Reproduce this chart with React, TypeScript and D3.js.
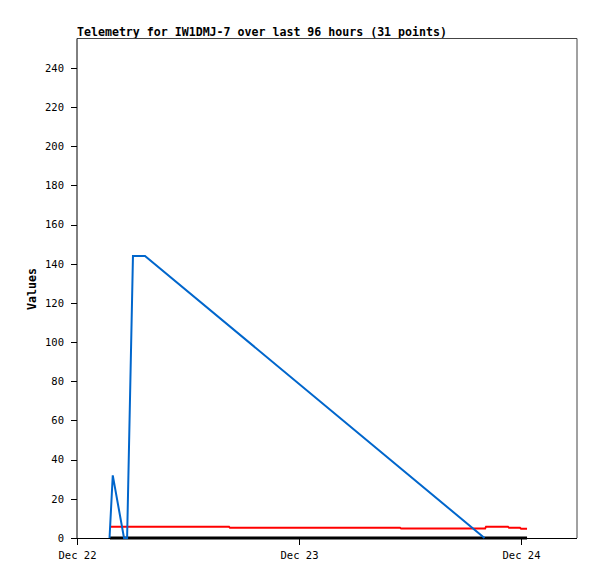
import React from "react";
import * as d3 from "d3";

const titleText = "Telemetry for IW1DMJ-7 over last 96 hours (31 points)";
const yLabel = "Values";
const xTickDates = ["2023-12-22T00:00", "2023-12-23T00:00", "2023-12-24T00:00"];
const xTickLabels = ["Dec 22", "Dec 23", "Dec 24"];
const yTicks = [0, 20, 40, 60, 80, 100, 120, 140, 160, 180, 200, 220, 240];

const blueTimes = [
  "2023-12-22T03:31", "2023-12-22T03:52", "2023-12-22T05:05", "2023-12-22T05:25",
  "2023-12-22T06:03", "2023-12-22T07:21", "2023-12-23T20:03",
];
const blueValues = [0, 32, 0, 0, 144, 144, 0];

const redTimes = [
  "2023-12-22T03:34", "2023-12-22T16:26", "2023-12-22T16:32", "2023-12-23T10:55",
  "2023-12-23T11:02", "2023-12-23T20:07", "2023-12-23T20:13", "2023-12-23T22:35",
  "2023-12-23T22:42", "2023-12-23T23:53", "2023-12-24T00:00", "2023-12-24T00:39",
];
const redValues = [5.7, 5.7, 5.2, 5.2, 4.8, 4.8, 5.8, 5.8, 5.2, 5.2, 4.7, 4.7];

const blackTimes = ["2023-12-22T03:34", "2023-12-24T00:39"];
const blackValues = [0, 0];

const W = 597, H = 579;
const left = 77, right = 577, top = 38.5, bottom = 538;

export default function App() {
  const x = d3.scaleTime()
    .domain([new Date("2023-12-22T00:00"), new Date("2023-12-24T06:03")])
    .range([left, right]);
  const y = d3.scaleLinear().domain([0, 255]).range([bottom, top]);

  const mk = (times: string[], vals: number[]) =>
    times.map((t, i) => [x(new Date(t)), y(vals[i])] as [number, number]);
  const line = d3.line();

  const font = "'DejaVu Sans Mono', monospace";

  return (
    <svg width={W} height={H} style={{ position: "absolute", left: 0, top: 0, background: "#fff" }}
      fontFamily={font}>
      <rect x={0} y={0} width={W} height={H} fill="#fff" />
      <text x={77} y={35.5} fontSize={11.6} fontWeight="bold" fill="#000">{titleText}</text>
      {/* frame */}
      <path d={`M${left},${top}H${right}V${bottom}`} fill="none" stroke="#444" strokeWidth={1} />
      <line x1={left} y1={top} x2={left} y2={bottom + 0.5} stroke="#000" strokeWidth={1} />
      <line x1={left} y1={bottom + 0.5} x2={right} y2={bottom + 0.5} stroke="#000" strokeWidth={1} />
      {/* y ticks */}
      {yTicks.map((v) => (
        <g key={v}>
          <line x1={71} x2={left} y1={Math.round(y(v)) + 0.5} y2={Math.round(y(v)) + 0.5} stroke="#000" />
          <text x={64} y={y(v) + 3.8} fontSize={10.5} textAnchor="end" fill="#000">{v}</text>
        </g>
      ))}
      {/* x ticks */}
      {xTickDates.map((d, i) => {
        const px = Math.round(x(new Date(d))) + 0.5;
        return (
          <g key={d}>
            <line x1={px} x2={px} y1={bottom} y2={bottom + 7} stroke="#000" />
            <text x={px} y={559} fontSize={10.5} textAnchor="middle" fill="#000">{xTickLabels[i]}</text>
          </g>
        );
      })}
      <text transform={`translate(35.5,289) rotate(-90)`} fontSize={11.6} fontWeight="bold"
        textAnchor="middle" fill="#000">{yLabel}</text>
      {/* series */}
      <path d={line(mk(blackTimes, blackValues)) || ""} fill="none" stroke="#000" strokeWidth={3} />
      <path d={line(mk(redTimes, redValues)) || ""} fill="none" stroke="#ff0000" strokeWidth={2} />
      <path d={line(mk(blueTimes, blueValues)) || ""} fill="none" stroke="#0066cc" strokeWidth={2}
        strokeLinejoin="miter" />
    </svg>
  );
}
